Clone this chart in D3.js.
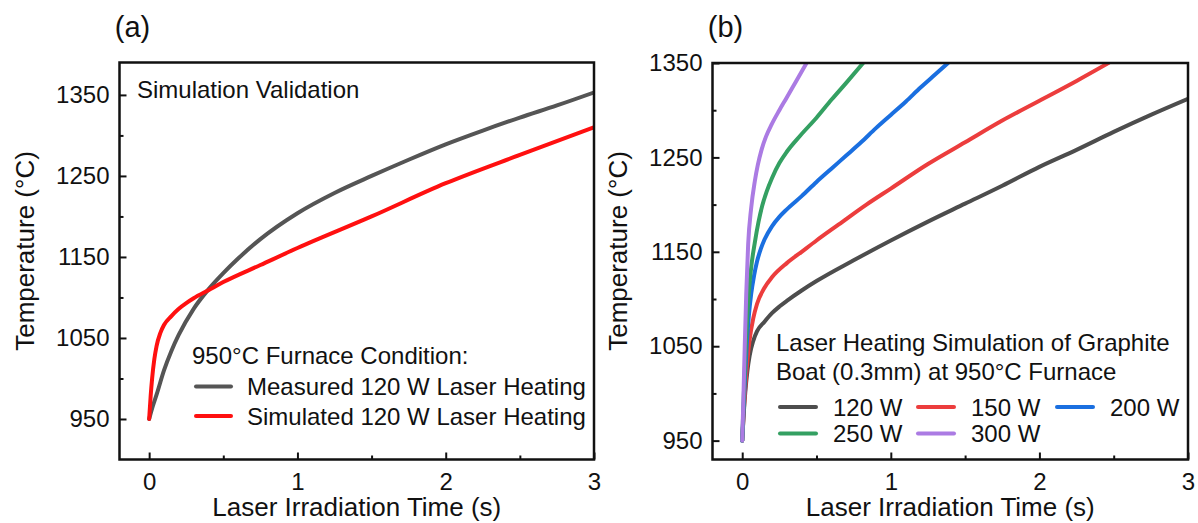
<!DOCTYPE html>
<html>
<head>
<meta charset="utf-8">
<script src="https://cdn.jsdelivr.net/npm/d3@7"></script>
<style>
  body { margin: 0; background: #fff; }
  svg text { font-family: "Liberation Sans", Arial, sans-serif; fill: #111; }
</style>
</head>
<body>
<svg id="chart" width="1198" height="523"></svg>
<script>
// ---- Panel (a): measured vs simulated 120 W heating ----
const measuredTime = [0, 0.025, 0.05, 0.1, 0.15, 0.2, 0.3, 0.4, 0.5, 0.6, 0.75, 1.0, 1.25, 1.5, 1.75, 2.0, 2.25, 2.5, 2.75, 3.0];
const measuredTemp = [950, 966, 980, 1010, 1034, 1054, 1086, 1110, 1130, 1148, 1172, 1204, 1229, 1250, 1270, 1289, 1306, 1322, 1337, 1353];
const simulatedTime = [0, 0.01, 0.02, 0.035, 0.05, 0.075, 0.1, 0.15, 0.2, 0.25, 0.3, 0.4, 0.5, 0.75, 1.0, 1.5, 2.0, 2.5, 3.0];
const simulatedTemp = [950, 978, 1000, 1024, 1040, 1056, 1066, 1077, 1086, 1093, 1099, 1109, 1119, 1140, 1161, 1200, 1241, 1276, 1310];

// ---- Panel (b): simulated heating at several laser powers ----
const p120Time = [0, 0.01, 0.02, 0.035, 0.05, 0.075, 0.1, 0.15, 0.2, 0.25, 0.3, 0.4, 0.5, 0.75, 1.0, 1.25, 1.5, 1.75, 2.0, 2.25, 2.5, 2.75, 3.0];
const p120Temp = [950, 978, 1000, 1024, 1040, 1056, 1066, 1076, 1085, 1092, 1098, 1109, 1119, 1141, 1162, 1182, 1201, 1220, 1240, 1258, 1277, 1295, 1312];
const p150Time = [0, 0.01, 0.02, 0.035, 0.05, 0.075, 0.1, 0.15, 0.2, 0.3, 0.4, 0.5, 0.65, 0.836, 1.0, 1.25, 1.5, 1.75, 2.0, 2.25, 2.465];
const p150Temp = [950, 980, 1005, 1035, 1057, 1080, 1095, 1112, 1123, 1138, 1150, 1162, 1179, 1200, 1217, 1243, 1266, 1289, 1310, 1331, 1350];
const p200Time = [0, 0.01, 0.02, 0.03, 0.045, 0.06, 0.08, 0.1, 0.125, 0.15, 0.2, 0.25, 0.3, 0.4, 0.5, 0.6, 0.7, 0.8, 0.9, 1.0, 1.1, 1.2, 1.3, 1.385];
const p200Temp = [950, 985, 1020, 1050, 1083, 1105, 1125, 1140, 1153, 1163, 1177, 1187, 1195, 1209, 1224, 1238, 1252, 1266, 1281, 1295, 1309, 1324, 1338, 1350];
const p250Time = [0, 0.01, 0.02, 0.03, 0.045, 0.06, 0.085, 0.11, 0.135, 0.165, 0.2, 0.25, 0.3, 0.39, 0.5, 0.6, 0.7, 0.814];
const p250Temp = [950, 995, 1035, 1070, 1108, 1133, 1160, 1182, 1199, 1214, 1228, 1244, 1256, 1273, 1292, 1311, 1329, 1350];
const p300Time = [0, 0.008, 0.017, 0.027, 0.04, 0.06, 0.085, 0.105, 0.13, 0.16, 0.198, 0.25, 0.298, 0.36, 0.433];
const p300Temp = [950, 995, 1050, 1105, 1158, 1196, 1225, 1242, 1258, 1272, 1285, 1300, 1313, 1330, 1350];

const powerLabels = ["120 W", "150 W", "200 W", "250 W", "300 W"];
const powerColors = ["#4d4d4d", "#ec3d3d", "#1a6fe0", "#34a062", "#ab7be3"];

const xMajorTicks = [0, 1, 2, 3];
const xMinorTicks = [0.5, 1.5, 2.5];
const yMajorTicks = [950, 1050, 1150, 1250, 1350];
const yMinorTicks = [1000, 1100, 1200, 1300];

const svg = d3.select("#chart");

function zip(ts, vs) { return ts.map((t, i) => [t, vs[i]]); }

function panel(cfg) {
  const g = svg.append("g");
  const x = d3.scaleLinear().domain([-0.2, 3]).range([cfg.left, cfg.right]);
  const y = d3.scaleLinear().domain(cfg.yDomain).range([cfg.bottom, cfg.top]);

  const clipId = "clip-" + cfg.id;
  svg.append("defs").append("clipPath").attr("id", clipId)
    .append("rect").attr("x", cfg.left).attr("y", cfg.top)
    .attr("width", cfg.right - cfg.left).attr("height", cfg.bottom - cfg.top);

  // axes with inward ticks
  const xAxis = g.append("g").attr("transform", `translate(0,${cfg.bottom})`)
    .call(d3.axisBottom(x).tickValues(xMajorTicks).tickFormat(d3.format("d"))
      .tickSizeInner(-7).tickSizeOuter(0).tickPadding(13));
  g.append("g").attr("transform", `translate(0,${cfg.bottom})`)
    .call(d3.axisBottom(x).tickValues(xMinorTicks).tickFormat("")
      .tickSizeInner(-4).tickSizeOuter(0));
  g.append("g").attr("transform", `translate(${cfg.left},0)`)
    .call(d3.axisLeft(y).tickValues(yMajorTicks).tickFormat(d3.format("d"))
      .tickSizeInner(-7).tickSizeOuter(0).tickPadding(10));
  g.append("g").attr("transform", `translate(${cfg.left},0)`)
    .call(d3.axisLeft(y).tickValues(yMinorTicks).tickFormat("")
      .tickSizeInner(-4).tickSizeOuter(0));

  g.selectAll(".domain").remove();
  g.selectAll(".tick line").attr("stroke", "#111").attr("stroke-width", 2);
  g.selectAll(".tick text").attr("font-size", 24).style("fill", "#111")
    .attr("font-family", "Liberation Sans, Arial, sans-serif");
  xAxis.selectAll(".tick text").attr("dy", "0.71em");

  // curves
  const line = d3.line().x(d => x(d[0])).y(d => y(d[1])).curve(d3.curveMonotoneX);
  const curves = g.append("g").attr("clip-path", `url(#${clipId})`);
  cfg.series.forEach(s => {
    curves.append("path").datum(zip(s.t, s.v))
      .attr("fill", "none").attr("stroke", s.color)
      .attr("stroke-width", 4).attr("stroke-linejoin", "round").attr("stroke-linecap", "round")
      .attr("d", line);
  });

  // frame
  g.append("rect").attr("x", cfg.left).attr("y", cfg.top)
    .attr("width", cfg.right - cfg.left).attr("height", cfg.bottom - cfg.top)
    .attr("fill", "none").attr("stroke", "#111").attr("stroke-width", 2.5);

  // axis titles
  g.append("text").attr("x", (cfg.left + cfg.right) / 2).attr("y", 516)
    .attr("text-anchor", "middle").attr("font-size", 26)
    .text("Laser Irradiation Time (s)");
  g.append("text")
    .attr("transform", `translate(${cfg.left - 86},251) rotate(-90)`)
    .attr("text-anchor", "middle").attr("font-size", 26)
    .text("Temperature (°C)");

  // panel letter
  g.append("text").attr("x", cfg.left + 13).attr("y", 37)
    .attr("text-anchor", "middle").attr("font-size", 29)
    .text(cfg.letter);

  return { g, x, y };
}

// Panel (a)
const A = panel({
  id: "a", letter: "(a)", left: 119.5, right: 594, top: 62.5, bottom: 459.5,
  yDomain: [900, 1390],
  series: [
    { t: measuredTime, v: measuredTemp, color: "#555555" },
    { t: simulatedTime, v: simulatedTemp, color: "#ff1010" }
  ]
});
A.g.append("text").attr("x", 137).attr("y", 98).attr("font-size", 24)
  .text("Simulation Validation");
A.g.append("text").attr("x", 192).attr("y", 364).attr("font-size", 24)
  .text("950°C Furnace Condition:");
[["Measured 120 W Laser Heating", "#555555", 386.5],
 ["Simulated 120 W Laser Heating", "#ff1010", 416]].forEach(([label, color, yy]) => {
  A.g.append("line").attr("x1", 196).attr("x2", 231).attr("y1", yy).attr("y2", yy)
    .attr("stroke", color).attr("stroke-width", 4).attr("stroke-linecap", "round");
  A.g.append("text").attr("x", 247).attr("y", yy + 8.5).attr("font-size", 24).text(label);
});

// Panel (b)
const powerSeries = [
  { t: p120Time, v: p120Temp }, { t: p150Time, v: p150Temp }, { t: p200Time, v: p200Temp },
  { t: p250Time, v: p250Temp }, { t: p300Time, v: p300Temp }
].map((s, i) => ({ ...s, color: powerColors[i] }));

const B = panel({
  id: "b", letter: "(b)", left: 712.5, right: 1188, top: 63, bottom: 459.5,
  yDomain: [930, 1350],
  series: powerSeries
});
B.g.append("text").attr("x", 776).attr("y", 351).attr("font-size", 24)
  .text("Laser Heating Simulation of Graphite");
B.g.append("text").attr("x", 776).attr("y", 380).attr("font-size", 24)
  .text("Boat (0.3mm) at 950°C Furnace");
const legendCols = [780, 918, 1057];
const legendRows = [407, 433.5];
powerLabels.forEach((label, i) => {
  const cx = legendCols[i % 3], cy = legendRows[Math.floor(i / 3)];
  B.g.append("line").attr("x1", cx).attr("x2", cx + 36).attr("y1", cy).attr("y2", cy)
    .attr("stroke", powerColors[i]).attr("stroke-width", 4).attr("stroke-linecap", "round");
  B.g.append("text").attr("x", cx + 53).attr("y", cy + 8.5).attr("font-size", 24).text(label);
});
</script>
</body>
</html>
